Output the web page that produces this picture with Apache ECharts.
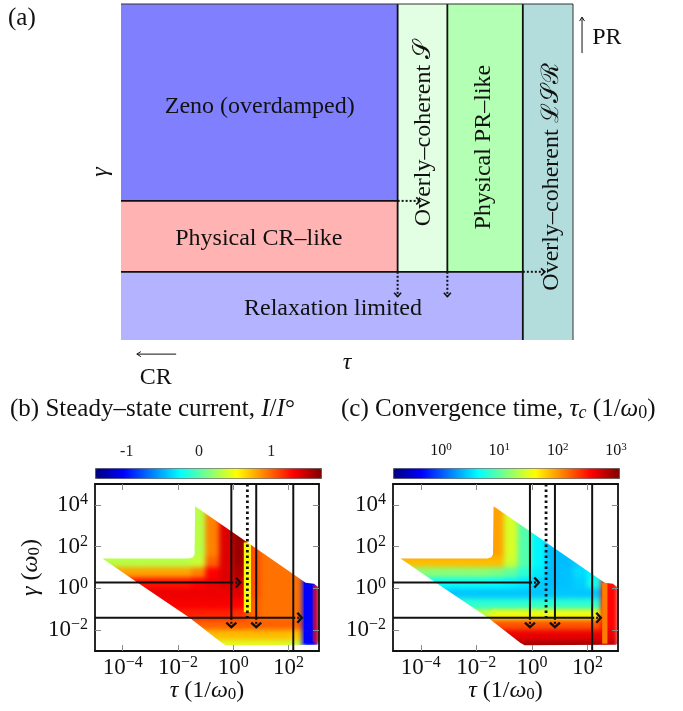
<!DOCTYPE html>
<html>
<head>
<meta charset="utf-8">
<title>Regimes, steady-state current and convergence time</title>
<script src="https://cdn.jsdelivr.net/npm/echarts@6/dist/echarts.min.js"></script>
<style>
  html, body { margin: 0; padding: 0; background: #fff; }
  .layer { position: absolute; left: 0; top: 0; width: 683px; height: 711px; }
  #cells { filter: blur(2.5px); }
</style>
</head>
<body>
<div id="cells" class="layer"></div>
<div id="chart" class="layer"></div>
<script>
const _ = null;

// ---------- (a) schematic regime map, arbitrary units 0..10 on both axes
const regimeLabels = ['Zeno (overdamped)', 'Physical CR–like', 'Relaxation limited',
  'Overly–coherent 𝒮', 'Physical PR–like', 'Overly–coherent ℒ𝒮ℛ'];
// [tau0, tau1, gamma0, gamma1]
const regimeBoxes = [[0, 6.12, 4.14, 10], [0, 6.12, 2.03, 4.14], [0, 8.89, 0, 2.03],
  [6.12, 7.22, 2.03, 10], [7.22, 8.89, 2.03, 10], [8.89, 10, 0, 10]];
const regimeLabelAt = [[3.07, 6.95], [3.05, 3.0], [4.69, 0.92], [6.7, 6.16], [8.02, 5.74], [9.52, 4.85]];
const regimeEdges = [[0, 4.14, 6.12, 4.14], [0, 2.03, 8.89, 2.03], [6.12, 2.03, 6.12, 10],
  [7.22, 2.03, 7.22, 10], [8.89, 0, 8.89, 10]];
const regimeFrame = [[0, 10, 10, 10], [10, 0, 10, 10]];
const regimeArrows = [[6.12, 4.14, 6.62, 4.14], [6.12, 2.03, 6.12, 1.29],
  [7.22, 2.03, 7.22, 1.29], [8.89, 2.03, 9.38, 2.03]];
const limitLabels = ['CR', 'PR'];
const limitArrows = [[1.22, -0.42, 0.35, -0.42], [10.2, 8.54, 10.2, 9.61]];
const limitLabelAt = [[0.77, -1.12], [10.75, 9.0]];

// ---------- (b), (c) maps, log10(tau) across, log10(gamma) up; cells are half a decade
const tauCells = [-4.75, -4.25, -3.75, -3.25, -2.75, -2.25, -1.75, -1.25, -0.75,
  -0.25, 0.25, 0.75, 1.25, 1.75, 2.25, 2.75, 3.25];
const gammaCells = [4.25, 3.75, 3.25, 2.75, 2.25, 1.75, 1.25, 0.75, 0.25,
  -0.25, -0.75, -1.25, -1.75, -2.25, -2.75];
const cellHalf = 0.25;

// steady-state current I/I°
const currentRows = [
  [_, _, _, _, _, _, .3, .3, .85, _, _, _, _, _, _, _, _],
  [_, _, _, _, _, _, .3, .3, .85, 1.35, _, _, _, _, _, _, _],
  [_, _, _, _, _, _, .3, .3, .9, 1.35, 1.6, _, _, _, _, _, _],
  [_, _, _, _, _, _, .3, .3, .9, 1.4, 1.6, 1.05, _, _, _, _, _],
  [_, _, _, _, _, _, .3, .3, .9, 1.4, 1.62, 1.05, .95, _, _, _, _],
  [.3, .3, .3, .3, .3, .3, .3, .3, .9, 1.4, 1.62, 1.05, .95, .95, _, _, _],
  [.3, .3, .3, .3, .3, .3, .3, .35, 1.0, 1.4, 1.6, 1.05, .95, .95, .95, _, _],
  [.8, .8, .8, .8, .8, .8, .8, .9, 1.3, 1.4, 1.55, 1.05, .95, .95, .95, .95, _],
  [_, 1.25, 1.25, 1.25, 1.25, 1.25, 1.25, 1.3, 1.35, 1.4, 1.45, 1.05, .95, .95, .95, -1.0, 1.35],
  [_, _, 1.35, 1.35, 1.35, 1.35, 1.35, 1.35, 1.35, 1.35, 1.4, 1.05, .95, .95, .95, -1.0, 1.35],
  [_, _, _, 1.3, 1.3, 1.32, 1.32, 1.32, 1.32, 1.32, 1.3, 1.0, .95, .95, .95, -1.0, 1.35],
  [_, _, _, _, 1.2, 1.2, 1.2, 1.2, 1.2, 1.2, 1.15, 1.0, .95, .95, .95, -1.0, 1.35],
  [_, _, _, _, _, 1.0, 1.0, 1.0, 1.0, 1.0, 1.0, 1.0, 1.0, 1.0, 1.0, -1.0, 1.35],
  [_, _, _, _, _, _, .72, .72, .72, .72, .72, .72, .72, .72, .7, -1.0, 1.35],
  [_, _, _, _, _, _, _, .42, .42, .42, .42, .42, .42, .4, .35, -1.0, 1.3]
];
// narrow features: [tau0, tau1, gamma0, gamma1, I/I°]
const currentStrips = [[0.38, 0.64, -1.14, 2.2, 0.52], [2.55, 2.87, -2.62, 0.29, -1.05]];
const currentFaint = [[2.87, 3.15, -2.55, 0.15, 1.3]];

// convergence time, log10(tau_c · omega0)
const convergenceRows = [
  [_, _, _, _, _, _, 2.1, 1.95, 1.45, _, _, _, _, _, _, _, _],
  [_, _, _, _, _, _, 2.1, 1.95, 1.45, .95, _, _, _, _, _, _, _],
  [_, _, _, _, _, _, 2.1, 1.95, 1.45, .95, .6, _, _, _, _, _, _],
  [_, _, _, _, _, _, 2.1, 1.95, 1.45, .95, .6, .38, _, _, _, _, _],
  [_, _, _, _, _, _, 2.1, 1.95, 1.45, .95, .6, .38, .38, _, _, _, _],
  [2.1, 2.1, 2.1, 2.1, 2.1, 2.1, 2.1, 1.95, 1.45, .95, .6, .38, .38, .45, _, _, _],
  [1.85, 1.85, 1.85, 1.85, 1.85, 1.85, 1.85, 1.85, 1.4, .95, .6, .38, .38, .45, .55, _, _],
  [1.15, 1.15, 1.15, 1.15, 1.15, 1.15, 1.15, 1.1, 1.0, .8, .55, .38, .4, .5, .6, .9, _],
  [_, .66, .66, .66, .66, .66, .66, .64, .6, .55, .45, .38, .4, .45, .7, 2.5, 2.5],
  [_, _, .42, .42, .42, .42, .42, .42, .42, .42, .42, .42, .42, .42, .42, 2.55, 2.55],
  [_, _, _, .75, .8, .8, .8, .8, .8, .8, .8, .8, .8, .8, .8, 2.55, 2.55],
  [_, _, _, _, 1.1, 1.2, 1.35, 1.55, 1.55, 1.55, 1.55, 1.55, 1.55, 1.55, 1.55, 2.55, 2.55],
  [_, _, _, _, _, 2.2, 2.25, 2.25, 2.25, 2.25, 2.25, 2.25, 2.25, 2.25, 2.25, 2.55, 2.55],
  [_, _, _, _, _, _, 2.65, 2.65, 2.65, 2.65, 2.65, 2.65, 2.65, 2.65, 2.65, 2.65, 2.65],
  [_, _, _, _, _, _, _, 2.9, 2.9, 2.9, 2.9, 2.9, 2.9, 2.9, 2.9, 2.8, 2.8]
];
const convergenceStrips = [[2.53, 2.72, -2.65, 0.26, 2.1]];

// outline of the computed region [log10 tau, log10 gamma]
const bandEdge = [[-4.73, 1.43], [-1.6, 1.43], [-1.46, 1.49], [-1.4, 1.62], [-1.38, 3.93],
  [2.62, 0.27], [2.92, 0.22], [3.06, 0.08], [3.12, -0.15], [3.12, -2.52], [3.04, -2.7],
  [-0.26, -2.72], [-0.42, -2.6], [-1.58, -1.41], [-3.48, 0.29]];

// regime boundaries drawn over both maps
const flowLines = [[-0.07, 5, -0.07, -1.41], [0.83, 5, 0.83, -1.41], [2.17, 5, 2.17, -3],
  [-5, 0.28, -0.07, 0.28], [-5, -1.41, 2.17, -1.41]];
const flowDotted = [[0.51, 5, 0.51, -1.41]];
const flowArrows = [[-0.07, 0.28, 0.25, 0.28], [2.17, -1.41, 2.48, -1.41],
  [-0.07, -1.41, -0.07, -1.86], [0.83, -1.41, 0.83, -1.86]];

const tauTicks = [-4, -2, 0, 2];
const gammaTicks = [-2, 0, 2, 4];
const currentBarTicks = [-1, 0, 1];
const convergenceBarTicks = [0, 1, 2, 3];
const tauRange = [-5, 3.1], gammaRange = [-3, 5];
const currentRange = [-1.44, 1.69], convergenceRange = [-0.82, 3.05];

// ---------- styles and layout
const serif = "'Liberation Serif', 'DejaVu Serif', serif";
const ink = '#111';
const jet = ['#00007f', '#0000ff', '#007fff', '#00ffff', '#7fff7f', '#ffff00', '#ff7f00', '#ff0000', '#7f0000'];
const regimeFill = ['#8080ff', '#ffb3b3', '#b3b3ff', '#e3ffe3', '#b3ffb3', '#b3dddd'];
const regimeTurn = [0, 0, 0, Math.PI / 2, Math.PI / 2, Math.PI / 2];
const plotA = {left: 121, top: 4, width: 452, height: 336};
const plotB = {left: 95, top: 484, width: 224, height: 167};
const plotC = {left: 393, top: 484, width: 225, height: 167};
const barB = {left: 95, top: 468, width: 226, height: 10};
const barC = {left: 393, top: 468, width: 226, height: 10};

function rich(size) {
  return {
    i: {fontFamily: serif, fontSize: size, fontStyle: 'italic', color: ink},
    sub: {fontFamily: serif, fontSize: Math.round(size * 0.7), verticalAlign: 'bottom', lineHeight: Math.round(size * 0.75), color: ink},
    si: {fontFamily: serif, fontSize: Math.round(size * 0.7), fontStyle: 'italic', verticalAlign: 'bottom', lineHeight: Math.round(size * 0.75), color: ink},
    n: {fontFamily: serif, fontSize: size, lineHeight: Math.round(size * 1.15), color: ink},
    sup: {fontFamily: serif, fontSize: Math.round(size * 0.7), verticalAlign: 'top', lineHeight: Math.round(size * 0.5), color: ink}
  };
}
const pow10 = v => '{n|10}{sup|' + (v < 0 ? '−' + Math.abs(v) : v) + '}';
const gridOf = p => Object.assign({outerBoundsMode: 'none', containLabel: false}, p);

function cellSeries(ax, rows) {
  const data = [];
  rows.forEach((row, r) => row.forEach((v, c) => {
    if (v !== null) data.push([tauCells[c], gammaCells[r], v]);
  }));
  return {
    type: 'custom', xAxisIndex: ax, yAxisIndex: ax, clip: true, silent: true, data,
    renderItem(params, api) {
      const a = api.coord([api.value(0) - cellHalf, api.value(1) + cellHalf]);
      const b = api.coord([api.value(0) + cellHalf, api.value(1) - cellHalf]);
      return {type: 'rect', shape: {x: a[0] - 0.3, y: a[1] - 0.3, width: b[0] - a[0] + 0.6, height: b[1] - a[1] + 0.6},
        style: {fill: api.visual('color')}};
    }
  };
}

function stripSeries(ax, strips, opacity) {
  return {
    type: 'custom', xAxisIndex: ax, yAxisIndex: ax, clip: true, silent: true, z: 1, data: strips,
    renderItem(params, api) {
      const a = api.coord([api.value(0), api.value(3)]);
      const b = api.coord([api.value(1), api.value(2)]);
      return {type: 'rect', shape: {x: a[0], y: a[1], width: b[0] - a[0], height: b[1] - a[1]},
        style: {fill: api.visual('color'), opacity}};
    }
  };
}

function maskSeries(ax) {
  return {
    type: 'custom', xAxisIndex: ax, yAxisIndex: ax, clip: false, silent: true, z: 2, data: [0],
    renderItem(params, api) {
      const ring = pts => 'M ' + pts.map(p => {
        const q = api.coord(p);
        return q[0].toFixed(2) + ' ' + q[1].toFixed(2);
      }).join(' L ') + ' Z ';
      const outer = [[-5.35, 5.2], [3.45, 5.2], [3.45, -3.4], [-5.35, -3.4]];
      return {type: 'path', shape: {pathData: ring(outer) + ring(bandEdge.slice().reverse())},
        style: {fill: '#fff'}};
    }
  };
}

function segSeries(ax, data, style, clip) {
  return {
    type: 'custom', xAxisIndex: ax, yAxisIndex: ax, clip, silent: true, z: 6, data,
    renderItem(params, api) {
      const p0 = api.coord([api.value(0), api.value(1)]);
      const p1 = api.coord([api.value(2), api.value(3)]);
      return {type: 'line', shape: {x1: p0[0], y1: p0[1], x2: p1[0], y2: p1[1]},
        style: Object.assign({stroke: ink}, style)};
    }
  };
}

function arrowSeries(ax, data, o) {
  return {
    type: 'custom', xAxisIndex: ax, yAxisIndex: ax, clip: false, silent: true, z: 6, data,
    renderItem(params, api) {
      const p0 = api.coord([api.value(0), api.value(1)]);
      const p1 = api.coord([api.value(2), api.value(3)]);
      const dx = p1[0] - p0[0], dy = p1[1] - p0[1], len = Math.hypot(dx, dy) || 1;
      const ux = dx / len, uy = dy / len;
      const bx = p1[0] - ux * o.depth, by = p1[1] - uy * o.depth;
      const nx = -uy * o.half, ny = ux * o.half;
      return {type: 'group', children: [
        {type: 'line', shape: {x1: p0[0], y1: p0[1], x2: p1[0], y2: p1[1]},
          style: {stroke: ink, lineWidth: o.width, lineDash: o.dash}},
        {type: 'polyline', shape: {points: [[bx + nx, by + ny], [p1[0], p1[1]], [bx - nx, by - ny]]},
          style: {stroke: ink, fill: null, lineWidth: o.head}}
      ]};
    }
  };
}

function textSeries(ax, positions, texts, font, turns) {
  return {
    type: 'custom', xAxisIndex: ax, yAxisIndex: ax, clip: false, silent: true, z: 4, data: positions,
    renderItem(params, api) {
      const p = api.coord([api.value(0), api.value(1)]);
      return {type: 'text', x: p[0], y: p[1], rotation: turns ? turns[params.dataIndex] : 0,
        style: {text: texts[params.dataIndex], font, fill: ink, align: 'center', verticalAlign: 'middle'}};
    }
  };
}

// ---------- blurred colour layer for the two maps
const cells = echarts.init(document.getElementById('cells'));
cells.setOption({
  animation: false,
  grid: [gridOf(plotB), gridOf(plotC)],
  xAxis: [0, 1].map(g => ({type: 'value', gridIndex: g, min: tauRange[0], max: tauRange[1], show: false})),
  yAxis: [0, 1].map(g => ({type: 'value', gridIndex: g, min: gammaRange[0], max: gammaRange[1], show: false})),
  visualMap: [
    {type: 'continuous', show: false, min: currentRange[0], max: currentRange[1], dimension: 2, seriesIndex: 0, inRange: {color: jet}},
    {type: 'continuous', show: false, min: convergenceRange[0], max: convergenceRange[1], dimension: 2, seriesIndex: 1, inRange: {color: jet}}
  ],
  series: [cellSeries(0, currentRows), cellSeries(1, convergenceRows)]
});

// ---------- everything else
function mapAxes(grid, withName) {
  const frame = {show: true, onZero: false, lineStyle: {color: ink, width: 1.8}};
  const tick = vals => ({show: true, inside: true, length: 6, customValues: vals, lineStyle: {color: '#8a8a8a', width: 1}});
  const x = [
    {type: 'value', gridIndex: grid, position: 'bottom', min: tauRange[0], max: tauRange[1], z: 5,
      axisLine: frame, axisTick: tick(tauTicks), splitLine: {show: false},
      axisLabel: {customValues: tauTicks, margin: 4, formatter: pow10, rich: rich(23)},
      name: '{i|τ} (1/{i|ω}{sub|0})', nameLocation: 'middle', nameGap: 28, nameMoveOverlap: false,
      nameTextStyle: {fontFamily: serif, fontSize: 24, color: ink, rich: rich(24)}},
    {type: 'value', gridIndex: grid, position: 'top', min: tauRange[0], max: tauRange[1], z: 5,
      axisLine: frame, axisTick: tick(tauTicks), axisLabel: {show: false}, splitLine: {show: false}}
  ];
  const y = [
    {type: 'value', gridIndex: grid, position: 'left', min: gammaRange[0], max: gammaRange[1], z: 5,
      axisLine: frame, axisTick: tick(gammaTicks), splitLine: {show: false},
      axisLabel: {customValues: gammaTicks, margin: 7, formatter: pow10, rich: rich(23)}},
    {type: 'value', gridIndex: grid, position: 'right', min: gammaRange[0], max: gammaRange[1], z: 5,
      axisLine: frame, axisTick: tick(gammaTicks), axisLabel: {show: false}, splitLine: {show: false}}
  ];
  if (withName) Object.assign(y[0], {
    name: '{i|γ} ({i|ω}{sub|0})', nameLocation: 'middle', nameRotate: 90, nameGap: 52, nameMoveOverlap: false,
    nameTextStyle: {fontFamily: serif, fontSize: 24, color: ink, rich: rich(24)}});
  return {x, y};
}
const axB = mapAxes(1, true), axC = mapAxes(2, false);
const hidden = {axisLine: {show: false}, axisTick: {show: false}, splitLine: {show: false}, axisLabel: {show: false}};
const titleText = {fontFamily: serif, fontSize: 25, fontWeight: 'normal', color: ink, rich: rich(25)};

const series = [
  // 0..5 regime map
  {type: 'custom', xAxisIndex: 0, yAxisIndex: 0, clip: false, silent: true, z: 1, data: regimeBoxes,
    renderItem(params, api) {
      const a = api.coord([api.value(0), api.value(3)]);
      const b = api.coord([api.value(1), api.value(2)]);
      return {type: 'rect', shape: {x: a[0], y: a[1], width: b[0] - a[0], height: b[1] - a[1]},
        style: {fill: regimeFill[params.dataIndex]}};
    }},
  textSeries(0, regimeLabelAt, regimeLabels, "24px 'Liberation Serif', 'DejaVu Serif', serif", regimeTurn),
  segSeries(0, regimeEdges, {lineWidth: 1.8}, false),
  segSeries(0, regimeFrame, {lineWidth: 1, stroke: '#333'}, false),
  arrowSeries(0, regimeArrows, {depth: 4, half: 3.5, width: 2, head: 1.6, dash: [2, 2]}),
  arrowSeries(0, limitArrows, {depth: 4, half: 2.5, width: 1, head: 1, dash: null}),
  // 6..8 narrow colour features (coloured by the visible colour bars)
  stripSeries(1, currentStrips, 1),
  stripSeries(1, currentFaint, 0.5),
  stripSeries(3, convergenceStrips, 1),
  // 9.. masks and overlays
  textSeries(0, limitLabelAt, limitLabels, "24px 'Liberation Serif', 'DejaVu Serif', serif"),
  maskSeries(1),
  maskSeries(3),
  segSeries(1, flowLines, {lineWidth: 2}, true),
  segSeries(1, flowDotted, {lineWidth: 2.8, lineDash: [2.5, 3]}, true),
  arrowSeries(1, flowArrows, {depth: 4.5, half: 5, width: 2.2, head: 2.4, dash: [2, 2]}),
  segSeries(3, flowLines, {lineWidth: 2}, true),
  segSeries(3, flowDotted, {lineWidth: 2.8, lineDash: [2.5, 3]}, true),
  arrowSeries(3, flowArrows, {depth: 4.5, half: 5, width: 2.2, head: 2.4, dash: [2, 2]})
];

const chart = echarts.init(document.getElementById('chart'));
chart.setOption({
  animation: false,
  backgroundColor: 'transparent',
  title: [
    {text: '(a)', left: 8, top: 6, padding: 0, textStyle: titleText},
    {text: '(b) Steady–state current, {i|I}/{i|I}°', left: 10, top: 397, padding: 0, textStyle: titleText},
    {text: '(c) Convergence time, {i|τ}{si|c} (1/{i|ω}{sub|0})', left: 341, top: 397, padding: 0, textStyle: titleText}
  ],
  grid: [gridOf(plotA), gridOf(plotB), gridOf(plotC), gridOf(barB), gridOf(barC)],
  xAxis: [
    Object.assign({type: 'value', gridIndex: 0, min: 0, max: 10, name: 'τ', nameLocation: 'middle', nameGap: 11,
      nameMoveOverlap: false, nameTextStyle: {fontFamily: serif, fontSize: 24, fontStyle: 'italic', color: ink}}, hidden),
    axB.x[0], axB.x[1], axC.x[0], axC.x[1],
    {type: 'value', gridIndex: 3, position: 'top', min: currentRange[0], max: currentRange[1],
      axisLine: {show: false}, axisTick: {show: false}, splitLine: {show: false},
      axisLabel: {customValues: currentBarTicks, margin: 8, fontFamily: serif, fontSize: 16, color: '#222',
        formatter: v => (v < 0 ? '-' + Math.abs(v) : String(v))}},
    {type: 'value', gridIndex: 4, position: 'top', min: convergenceRange[0], max: convergenceRange[1],
      axisLine: {show: false}, axisTick: {show: false}, splitLine: {show: false},
      axisLabel: {customValues: convergenceBarTicks, margin: 8, formatter: pow10, rich: rich(16)}}
  ],
  yAxis: [
    Object.assign({type: 'value', gridIndex: 0, min: 0, max: 10, name: 'γ', nameLocation: 'middle', nameRotate: 90,
      nameGap: 8, nameMoveOverlap: false, nameTextStyle: {fontFamily: serif, fontSize: 24, fontStyle: 'italic', color: ink}}, hidden),
    axB.y[0], axB.y[1], axC.y[0], axC.y[1],
    Object.assign({type: 'value', gridIndex: 3, min: 0, max: 1, show: false}),
    Object.assign({type: 'value', gridIndex: 4, min: 0, max: 1, show: false})
  ],
  visualMap: [
    {type: 'continuous', orient: 'horizontal', left: barB.left, top: barB.top, itemWidth: 10, itemHeight: barB.width,
      padding: 0, calculable: false, min: currentRange[0], max: currentRange[1], dimension: 4, seriesIndex: [6, 7],
      inRange: {color: jet}, borderColor: '#555', borderWidth: 1},
    {type: 'continuous', orient: 'horizontal', left: barC.left, top: barC.top, itemWidth: 10, itemHeight: barC.width,
      padding: 0, calculable: false, min: convergenceRange[0], max: convergenceRange[1], dimension: 4, seriesIndex: [8],
      inRange: {color: jet}, borderColor: '#555', borderWidth: 1}
  ],
  series
});
</script>
</body>
</html>
